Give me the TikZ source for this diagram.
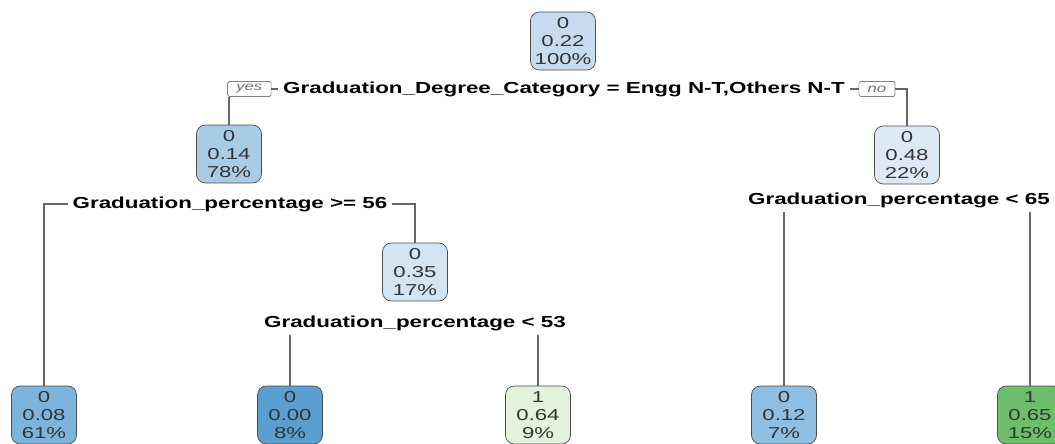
\documentclass[tikz,border=0pt]{standalone}
\usepackage{fontspec}
\setmainfont{Liberation Sans}
\newfontfamily\rpartfont[FakeStretch=1.4]{Liberation Sans}
\usepackage{tikz}

\definecolor{rootblue}{HTML}{C6DBEF}
\definecolor{enggblue}{HTML}{A9CCE6}
\definecolor{otherblue}{HTML}{DDEAF6}
\definecolor{midblue}{HTML}{D3E4F3}
\definecolor{leafblue}{HTML}{7DB4DB}
\definecolor{deepblue}{HTML}{5A9FCF}
\definecolor{palegreen}{HTML}{E3F2DC}
\definecolor{softblue}{HTML}{8EBFE0}
\definecolor{leafgreen}{HTML}{6DBE6B}

\begin{document}
\begin{tikzpicture}[x=0.02cm, y=-0.02cm,
    box/.style={
      rectangle,
      draw=black!70,
      rounded corners=5pt,
      minimum width=1.3cm,
      minimum height=1.16cm,
      inner sep=1pt,
      align=center,
      text=black!80,
      font=\rpartfont\fontsize{9}{10.2}\selectfont
    },
    split/.style={
      inner sep=2.5pt,
      font=\rpartfont\bfseries\fontsize{9.1}{11}\selectfont
    },
    answer/.style={
      draw=black!50,
      rounded corners=1pt,
      inner xsep=5pt,
      inner ysep=1pt,
      minimum height=0.3cm,
      text=black!55,
      font=\rpartfont\itshape\fontsize{6.8}{7}\selectfont
    },
    branch/.style={draw=black!60, line width=0.6pt}
]

\fill[white] (0,0) rectangle (1055,443);
\useasboundingbox (0,0) rectangle (1055,443);
\clip (0,0) rectangle (1055,443);

%% Nodes

\node [box, fill=rootblue] (root) at (563,41) {0\\0.22\\100\%};
\node [box, fill=enggblue] (engg) at (229,154) {0\\0.14\\78\%};
\node [box, fill=otherblue] (other) at (907,155) {0\\0.48\\22\%};
\node [box, fill=midblue] (pctmid) at (415,272) {0\\0.35\\17\%};
\node [box, fill=leafblue] (hi56) at (44,415) {0\\0.08\\61\%};
\node [box, fill=deepblue] (lo53) at (290,415) {0\\0.00\\8\%};
\node [box, fill=palegreen] (hi53) at (538,415) {1\\0.64\\9\%};
\node [box, fill=softblue] (lo65) at (784,415) {0\\0.12\\7\%};
\node [box, fill=leafgreen] (hi65) at (1030,415) {1\\0.65\\15\%};

%% Split labels

\node [split] (degsplit) at (564,89) {Graduation\_Degree\_Category = Engg N-T,Others N-T};
\node [answer, anchor=east] (yes) at ([xshift=-0.14cm]degsplit.west) {yes};
\node [answer, anchor=west] (no) at ([xshift=0.18cm]degsplit.east) {no};
\node [split] (pct56) at (230,204) {Graduation\_percentage >= 56};
\node [split] (pct53) at (415,323) {Graduation\_percentage < 53};
\node [split] (pct65) at (899,200) {Graduation\_percentage < 65};

%% Branches

\draw [branch] (yes) -- (degsplit);
\draw [branch] (degsplit) -- (no);
\draw [branch] (yes.south -| engg) -- (engg.north);
\draw [branch] (no.east) -| (other.north);
\draw [branch] (pct56.west) -| (hi56.north);
\draw [branch] (pct56.east) -| (pctmid.north);
\draw [branch] (pct53.south -| lo53) -- (lo53.north);
\draw [branch] (pct53.south -| hi53) -- (hi53.north);
\draw [branch] (pct65.south -| lo65) -- (lo65.north);
\draw [branch] (pct65.south -| hi65) -- (hi65.north);

\end{tikzpicture}
\end{document}
